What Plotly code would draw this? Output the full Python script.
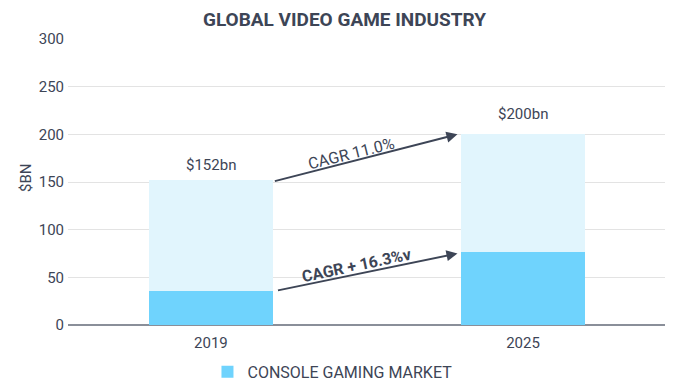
import plotly.graph_objects as go

years = ["2019", "2025"]
console = [36, 77]
total = [152, 200]
other = [t - c for t, c in zip(total, console)]
total_labels = ["$152bn", "$200bn"]
cagr_total = "CAGR 11.0%"
cagr_console = "CAGR + 16.3%v"

TXT = "#3d4556"
fig = go.Figure()
fig.add_trace(go.Bar(x=[0, 1], y=console, name="CONSOLE GAMING MARKET",
                     marker=dict(color="#6fd3fd", line=dict(width=0)), width=0.4))
fig.add_trace(go.Bar(x=[0, 1], y=other, name="Other", showlegend=False,
                     marker=dict(color="#e1f5fd", line=dict(width=0)), width=0.4))

anns = []
label_gap = [15, 20]
for i, (t, lab) in enumerate(zip(total, total_labels)):
    anns.append(dict(x=i, y=t, text=lab, showarrow=False, yanchor="middle",
                     yshift=label_gap[i], font=dict(size=15, color=TXT)))
# arrows
anns.append(dict(x=0.79, y=total[1], ax=0.2, ay=total[0] - 1.5, xref="x", yref="y",
                 axref="x", ayref="y", showarrow=True, arrowhead=2, arrowsize=1.1,
                 arrowwidth=2, arrowcolor=TXT, text=""))
anns.append(dict(x=0.79, y=console[1] - 2, ax=0.21, ay=console[0], xref="x", yref="y",
                 axref="x", ayref="y", showarrow=True, arrowhead=2, arrowsize=1.1,
                 arrowwidth=2, arrowcolor=TXT, text=""))
anns.append(dict(x=0.45, y=180, text=cagr_total, showarrow=False, textangle=-14,
                 font=dict(size=16, color=TXT)))
anns.append(dict(x=0.465, y=62, text="<b>" + cagr_console + "</b>", showarrow=False,
                 textangle=-12, font=dict(size=16, color=TXT)))
anns.append(dict(x=-0.0888, y=0.514, xref="paper", yref="paper", text="$BN",
                 showarrow=False, textangle=-90, font=dict(size=15, color=TXT)))

fig.update_layout(
    barmode="stack",
    width=673, height=376,
    margin=dict(l=60, r=16, t=31, b=59),
    paper_bgcolor="white", plot_bgcolor="white",
    font=dict(family="Roboto", color=TXT, size=14),
    title=dict(text="<b>GLOBAL VIDEO GAME INDUSTRY</b>", x=0.5, xanchor="center",
               y=0.988, yanchor="top", pad=dict(t=0), font=dict(size=19, color=TXT)),
    xaxis=dict(tickmode="array", tickvals=[0, 1], ticktext=years, automargin=False,
               range=[-0.458, 1.455], showgrid=False, zeroline=False,
               ticklabelstandoff=7,
               showline=False, ticks="", tickfont=dict(size=15, color=TXT)),
    yaxis=dict(range=[0, 300], dtick=50, gridcolor="#e3e3e3", gridwidth=1,
               automargin=False, ticklabelstandoff=3,
               zeroline=True, zerolinecolor="#8a8f99", zerolinewidth=2,
               tickfont=dict(size=15, color=TXT)),
    legend=dict(orientation="h", x=0.443, xanchor="center", yref="container",
                y=0.032, yanchor="middle", font=dict(size=16, color=TXT)),
    annotations=anns,
)
fig.write_html("out.html")
